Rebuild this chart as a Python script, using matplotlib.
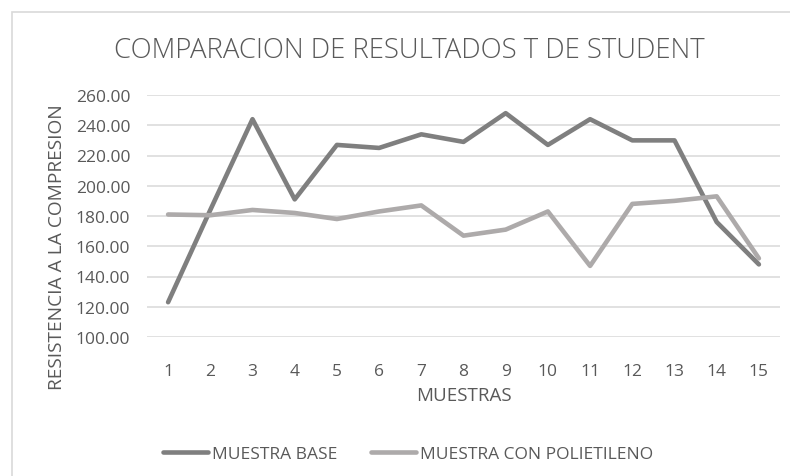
import matplotlib.pyplot as plt
from matplotlib.patches import Rectangle

# datos
muestras = list(range(1, 16))
muestra_base = [123, 184, 244, 191, 227, 225, 234, 229, 248, 227, 244, 230, 230, 176, 148]
muestra_poli = [181, 180.5, 184, 182, 178, 183, 187, 167, 171, 183, 147, 188, 190, 193, 152]
yticks = [100, 120, 140, 160, 180, 200, 220, 240, 260]

txt = '#595959'
plt.rcParams['font.family'] = ['Open Sans', 'DejaVu Sans']

fig = plt.figure(figsize=(7.9, 4.77), dpi=100)
W, H = 790, 477

# borde del area del grafico (cortado a la derecha y abajo)
fig.patches.append(Rectangle((12 / W, -0.1), 1.2, 1 - 13 / H + 0.1, transform=fig.transFigure,
                             fill=False, edgecolor='#d9d9d9', linewidth=1.2))

ax = fig.add_axes([147 / W, 1 - 338 / H, 633 / W, 242 / H])
ax.plot(muestras, muestra_base, color='#7f7f7f', lw=3.3, label='MUESTRA BASE',
        solid_joinstyle='round', solid_capstyle='round', zorder=3)
ax.plot(muestras, muestra_poli, color='#adaaaa', lw=3.3, label='MUESTRA CON POLIETILENO',
        solid_joinstyle='round', solid_capstyle='round', zorder=3)

ax.set_xlim(0.5, 15.5)
ax.set_ylim(100, 260)
ax.set_yticks(yticks)
ax.set_yticklabels(['%.2f' % v for v in yticks])
ax.set_xticks(muestras)
ax.grid(axis='y', color='#d9d9d9', lw=1.1, zorder=0)
for s in ax.spines.values():
    s.set_visible(False)
ax.tick_params(length=0, labelsize=12.5, colors=txt)
ax.tick_params(axis='x', pad=19)
ax.tick_params(axis='y', pad=12)

# titulo centrado en la figura, no en los ejes
fig.text(409 / W, 1 - 51 / H, 'COMPARACION DE RESULTADOS T DE STUDENT', fontsize=19.8,
         fontweight='light', color=txt, ha='center', va='center')
ax.set_xlabel('MUESTRAS', fontsize=13.5, color=txt)
ax.xaxis.set_label_coords(0.5, -0.24)
ax.xaxis.label.set_va('center')
ax.set_ylabel('RESISTENCIA A LA COMPRESION', fontsize=13.8, color=txt)
ax.yaxis.set_label_coords((57 - 147) / 633, (338 - 247) / 242)
ax.yaxis.label.set_va('center')

fig.legend(loc='center', bbox_to_anchor=(408 / W, 1 - 455 / H), ncol=2, frameon=False,
           fontsize=12.5, labelcolor=txt, handlelength=2.6, handletextpad=0.25,
           columnspacing=1.9)

fig.savefig('out.png', dpi=100)
